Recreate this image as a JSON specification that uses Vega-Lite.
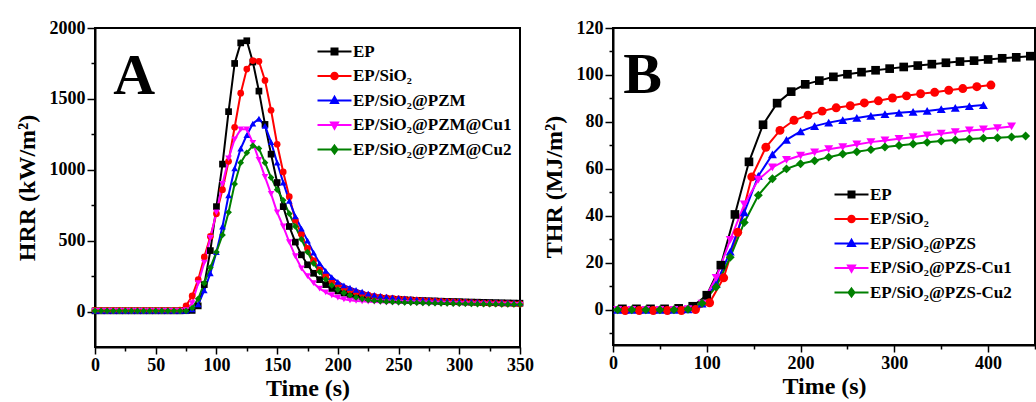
{
"$schema": "https://vega.github.io/schema/vega-lite/v6.json",
"background": "white",
"padding": {"left": 14, "top": 18, "right": 0, "bottom": 0},
"bounds": "flush",
"spacing": 93,
"datasets": {
"hrr": [
{"s":"EP","t":0,"v":5},{"s":"EP","t":5,"v":5},{"s":"EP","t":10,"v":5},{"s":"EP","t":15,"v":5},{"s":"EP","t":20,"v":5},{"s":"EP","t":25,"v":5},{"s":"EP","t":30,"v":5},{"s":"EP","t":35,"v":5},{"s":"EP","t":40,"v":5},{"s":"EP","t":45,"v":5},{"s":"EP","t":50,"v":5},{"s":"EP","t":55,"v":5},{"s":"EP","t":60,"v":5},{"s":"EP","t":65,"v":5},{"s":"EP","t":70,"v":5},{"s":"EP","t":75,"v":6},{"s":"EP","t":80,"v":8},{"s":"EP","t":85,"v":40},{"s":"EP","t":90,"v":190},{"s":"EP","t":95,"v":430},{"s":"EP","t":100,"v":740},{"s":"EP","t":105,"v":1040},{"s":"EP","t":110,"v":1410},{"s":"EP","t":115,"v":1750},{"s":"EP","t":120,"v":1895},{"s":"EP","t":125,"v":1910},{"s":"EP","t":130,"v":1760},{"s":"EP","t":135,"v":1555},{"s":"EP","t":140,"v":1320},{"s":"EP","t":145,"v":1110},{"s":"EP","t":150,"v":910},{"s":"EP","t":155,"v":740},{"s":"EP","t":160,"v":600},{"s":"EP","t":165,"v":490},{"s":"EP","t":170,"v":400},{"s":"EP","t":175,"v":330},{"s":"EP","t":180,"v":270},{"s":"EP","t":185,"v":225},{"s":"EP","t":190,"v":190},{"s":"EP","t":195,"v":163},{"s":"EP","t":200,"v":145},{"s":"EP","t":205,"v":130},{"s":"EP","t":210,"v":118},{"s":"EP","t":215,"v":110},{"s":"EP","t":220,"v":104},{"s":"EP","t":225,"v":99},{"s":"EP","t":230,"v":95},{"s":"EP","t":235,"v":92},{"s":"EP","t":240,"v":89},{"s":"EP","t":245,"v":87},{"s":"EP","t":250,"v":85},{"s":"EP","t":255,"v":83},{"s":"EP","t":260,"v":81},{"s":"EP","t":265,"v":79},{"s":"EP","t":270,"v":78},{"s":"EP","t":275,"v":76},{"s":"EP","t":280,"v":75},{"s":"EP","t":285,"v":73},{"s":"EP","t":290,"v":72},{"s":"EP","t":295,"v":71},{"s":"EP","t":300,"v":70},{"s":"EP","t":305,"v":68},{"s":"EP","t":310,"v":67},{"s":"EP","t":315,"v":66},{"s":"EP","t":320,"v":65},{"s":"EP","t":325,"v":64},{"s":"EP","t":330,"v":63},{"s":"EP","t":335,"v":62},{"s":"EP","t":340,"v":61},{"s":"EP","t":345,"v":60},{"s":"EP","t":350,"v":59},
{"s":"EP/SiO₂","t":0,"v":8},{"s":"EP/SiO₂","t":5,"v":8},{"s":"EP/SiO₂","t":10,"v":8},{"s":"EP/SiO₂","t":15,"v":8},{"s":"EP/SiO₂","t":20,"v":8},{"s":"EP/SiO₂","t":25,"v":8},{"s":"EP/SiO₂","t":30,"v":8},{"s":"EP/SiO₂","t":35,"v":8},{"s":"EP/SiO₂","t":40,"v":8},{"s":"EP/SiO₂","t":45,"v":8},{"s":"EP/SiO₂","t":50,"v":8},{"s":"EP/SiO₂","t":55,"v":8},{"s":"EP/SiO₂","t":60,"v":8},{"s":"EP/SiO₂","t":65,"v":8},{"s":"EP/SiO₂","t":70,"v":10},{"s":"EP/SiO₂","t":75,"v":40},{"s":"EP/SiO₂","t":80,"v":110},{"s":"EP/SiO₂","t":85,"v":225},{"s":"EP/SiO₂","t":90,"v":385},{"s":"EP/SiO₂","t":95,"v":530},{"s":"EP/SiO₂","t":100,"v":690},{"s":"EP/SiO₂","t":105,"v":860},{"s":"EP/SiO₂","t":110,"v":1060},{"s":"EP/SiO₂","t":115,"v":1300},{"s":"EP/SiO₂","t":120,"v":1540},{"s":"EP/SiO₂","t":125,"v":1710},{"s":"EP/SiO₂","t":130,"v":1770},{"s":"EP/SiO₂","t":135,"v":1765},{"s":"EP/SiO₂","t":140,"v":1630},{"s":"EP/SiO₂","t":145,"v":1420},{"s":"EP/SiO₂","t":150,"v":1180},{"s":"EP/SiO₂","t":155,"v":985},{"s":"EP/SiO₂","t":160,"v":810},{"s":"EP/SiO₂","t":165,"v":645},{"s":"EP/SiO₂","t":170,"v":545},{"s":"EP/SiO₂","t":175,"v":445},{"s":"EP/SiO₂","t":180,"v":360},{"s":"EP/SiO₂","t":185,"v":295},{"s":"EP/SiO₂","t":190,"v":252},{"s":"EP/SiO₂","t":195,"v":215},{"s":"EP/SiO₂","t":200,"v":190},{"s":"EP/SiO₂","t":205,"v":168},{"s":"EP/SiO₂","t":210,"v":150},{"s":"EP/SiO₂","t":215,"v":136},{"s":"EP/SiO₂","t":220,"v":125},{"s":"EP/SiO₂","t":225,"v":116},{"s":"EP/SiO₂","t":230,"v":108},{"s":"EP/SiO₂","t":235,"v":102},{"s":"EP/SiO₂","t":240,"v":97},{"s":"EP/SiO₂","t":245,"v":93},{"s":"EP/SiO₂","t":250,"v":89},{"s":"EP/SiO₂","t":255,"v":86},{"s":"EP/SiO₂","t":260,"v":83},{"s":"EP/SiO₂","t":265,"v":80},{"s":"EP/SiO₂","t":270,"v":78},{"s":"EP/SiO₂","t":275,"v":76},{"s":"EP/SiO₂","t":280,"v":74},{"s":"EP/SiO₂","t":285,"v":72},{"s":"EP/SiO₂","t":290,"v":70},{"s":"EP/SiO₂","t":295,"v":68},{"s":"EP/SiO₂","t":300,"v":66},{"s":"EP/SiO₂","t":305,"v":65},{"s":"EP/SiO₂","t":310,"v":63},{"s":"EP/SiO₂","t":315,"v":62},{"s":"EP/SiO₂","t":320,"v":60},{"s":"EP/SiO₂","t":325,"v":59},{"s":"EP/SiO₂","t":330,"v":58},{"s":"EP/SiO₂","t":335,"v":57},{"s":"EP/SiO₂","t":340,"v":56},{"s":"EP/SiO₂","t":345,"v":55},{"s":"EP/SiO₂","t":350,"v":54},
{"s":"EP/SiO₂@PZM","t":0,"v":5},{"s":"EP/SiO₂@PZM","t":5,"v":5},{"s":"EP/SiO₂@PZM","t":10,"v":5},{"s":"EP/SiO₂@PZM","t":15,"v":5},{"s":"EP/SiO₂@PZM","t":20,"v":5},{"s":"EP/SiO₂@PZM","t":25,"v":5},{"s":"EP/SiO₂@PZM","t":30,"v":5},{"s":"EP/SiO₂@PZM","t":35,"v":5},{"s":"EP/SiO₂@PZM","t":40,"v":5},{"s":"EP/SiO₂@PZM","t":45,"v":5},{"s":"EP/SiO₂@PZM","t":50,"v":5},{"s":"EP/SiO₂@PZM","t":55,"v":5},{"s":"EP/SiO₂@PZM","t":60,"v":5},{"s":"EP/SiO₂@PZM","t":65,"v":5},{"s":"EP/SiO₂@PZM","t":70,"v":5},{"s":"EP/SiO₂@PZM","t":75,"v":5},{"s":"EP/SiO₂@PZM","t":80,"v":15},{"s":"EP/SiO₂@PZM","t":85,"v":50},{"s":"EP/SiO₂@PZM","t":90,"v":150},{"s":"EP/SiO₂@PZM","t":95,"v":270},{"s":"EP/SiO₂@PZM","t":100,"v":420},{"s":"EP/SiO₂@PZM","t":105,"v":600},{"s":"EP/SiO₂@PZM","t":110,"v":820},{"s":"EP/SiO₂@PZM","t":115,"v":1010},{"s":"EP/SiO₂@PZM","t":120,"v":1150},{"s":"EP/SiO₂@PZM","t":125,"v":1245},{"s":"EP/SiO₂@PZM","t":130,"v":1325},{"s":"EP/SiO₂@PZM","t":135,"v":1360},{"s":"EP/SiO₂@PZM","t":140,"v":1310},{"s":"EP/SiO₂@PZM","t":145,"v":1195},{"s":"EP/SiO₂@PZM","t":150,"v":1050},{"s":"EP/SiO₂@PZM","t":155,"v":910},{"s":"EP/SiO₂@PZM","t":160,"v":780},{"s":"EP/SiO₂@PZM","t":165,"v":672},{"s":"EP/SiO₂@PZM","t":170,"v":585},{"s":"EP/SiO₂@PZM","t":175,"v":500},{"s":"EP/SiO₂@PZM","t":180,"v":415},{"s":"EP/SiO₂@PZM","t":185,"v":340},{"s":"EP/SiO₂@PZM","t":190,"v":287},{"s":"EP/SiO₂@PZM","t":195,"v":243},{"s":"EP/SiO₂@PZM","t":200,"v":210},{"s":"EP/SiO₂@PZM","t":205,"v":185},{"s":"EP/SiO₂@PZM","t":210,"v":168},{"s":"EP/SiO₂@PZM","t":215,"v":153},{"s":"EP/SiO₂@PZM","t":220,"v":140},{"s":"EP/SiO₂@PZM","t":225,"v":126},{"s":"EP/SiO₂@PZM","t":230,"v":117},{"s":"EP/SiO₂@PZM","t":235,"v":111},{"s":"EP/SiO₂@PZM","t":240,"v":105},{"s":"EP/SiO₂@PZM","t":245,"v":100},{"s":"EP/SiO₂@PZM","t":250,"v":96},{"s":"EP/SiO₂@PZM","t":255,"v":92},{"s":"EP/SiO₂@PZM","t":260,"v":89},{"s":"EP/SiO₂@PZM","t":265,"v":86},{"s":"EP/SiO₂@PZM","t":270,"v":84},{"s":"EP/SiO₂@PZM","t":275,"v":82},{"s":"EP/SiO₂@PZM","t":280,"v":80},{"s":"EP/SiO₂@PZM","t":285,"v":78},{"s":"EP/SiO₂@PZM","t":290,"v":76},{"s":"EP/SiO₂@PZM","t":295,"v":74},{"s":"EP/SiO₂@PZM","t":300,"v":73},{"s":"EP/SiO₂@PZM","t":305,"v":71},{"s":"EP/SiO₂@PZM","t":310,"v":70},{"s":"EP/SiO₂@PZM","t":315,"v":68},{"s":"EP/SiO₂@PZM","t":320,"v":67},{"s":"EP/SiO₂@PZM","t":325,"v":66},{"s":"EP/SiO₂@PZM","t":330,"v":65},{"s":"EP/SiO₂@PZM","t":335,"v":64},{"s":"EP/SiO₂@PZM","t":340,"v":63},{"s":"EP/SiO₂@PZM","t":345,"v":62},{"s":"EP/SiO₂@PZM","t":350,"v":61},
{"s":"EP/SiO₂@PZM@Cu1","t":0,"v":5},{"s":"EP/SiO₂@PZM@Cu1","t":5,"v":5},{"s":"EP/SiO₂@PZM@Cu1","t":10,"v":5},{"s":"EP/SiO₂@PZM@Cu1","t":15,"v":5},{"s":"EP/SiO₂@PZM@Cu1","t":20,"v":5},{"s":"EP/SiO₂@PZM@Cu1","t":25,"v":5},{"s":"EP/SiO₂@PZM@Cu1","t":30,"v":5},{"s":"EP/SiO₂@PZM@Cu1","t":35,"v":5},{"s":"EP/SiO₂@PZM@Cu1","t":40,"v":5},{"s":"EP/SiO₂@PZM@Cu1","t":45,"v":5},{"s":"EP/SiO₂@PZM@Cu1","t":50,"v":5},{"s":"EP/SiO₂@PZM@Cu1","t":55,"v":5},{"s":"EP/SiO₂@PZM@Cu1","t":60,"v":5},{"s":"EP/SiO₂@PZM@Cu1","t":65,"v":5},{"s":"EP/SiO₂@PZM@Cu1","t":70,"v":5},{"s":"EP/SiO₂@PZM@Cu1","t":75,"v":10},{"s":"EP/SiO₂@PZM@Cu1","t":80,"v":60},{"s":"EP/SiO₂@PZM@Cu1","t":85,"v":200},{"s":"EP/SiO₂@PZM@Cu1","t":90,"v":345},{"s":"EP/SiO₂@PZM@Cu1","t":95,"v":520},{"s":"EP/SiO₂@PZM@Cu1","t":100,"v":700},{"s":"EP/SiO₂@PZM@Cu1","t":105,"v":900},{"s":"EP/SiO₂@PZM@Cu1","t":110,"v":1080},{"s":"EP/SiO₂@PZM@Cu1","t":115,"v":1215},{"s":"EP/SiO₂@PZM@Cu1","t":120,"v":1285},{"s":"EP/SiO₂@PZM@Cu1","t":125,"v":1285},{"s":"EP/SiO₂@PZM@Cu1","t":130,"v":1190},{"s":"EP/SiO₂@PZM@Cu1","t":135,"v":1070},{"s":"EP/SiO₂@PZM@Cu1","t":140,"v":950},{"s":"EP/SiO₂@PZM@Cu1","t":145,"v":830},{"s":"EP/SiO₂@PZM@Cu1","t":150,"v":700},{"s":"EP/SiO₂@PZM@Cu1","t":155,"v":600},{"s":"EP/SiO₂@PZM@Cu1","t":160,"v":490},{"s":"EP/SiO₂@PZM@Cu1","t":165,"v":390},{"s":"EP/SiO₂@PZM@Cu1","t":170,"v":305},{"s":"EP/SiO₂@PZM@Cu1","t":175,"v":250},{"s":"EP/SiO₂@PZM@Cu1","t":180,"v":200},{"s":"EP/SiO₂@PZM@Cu1","t":185,"v":162},{"s":"EP/SiO₂@PZM@Cu1","t":190,"v":135},{"s":"EP/SiO₂@PZM@Cu1","t":195,"v":115},{"s":"EP/SiO₂@PZM@Cu1","t":200,"v":98},{"s":"EP/SiO₂@PZM@Cu1","t":205,"v":86},{"s":"EP/SiO₂@PZM@Cu1","t":210,"v":79},{"s":"EP/SiO₂@PZM@Cu1","t":215,"v":75},{"s":"EP/SiO₂@PZM@Cu1","t":220,"v":72},{"s":"EP/SiO₂@PZM@Cu1","t":225,"v":70},{"s":"EP/SiO₂@PZM@Cu1","t":230,"v":68},{"s":"EP/SiO₂@PZM@Cu1","t":235,"v":66},{"s":"EP/SiO₂@PZM@Cu1","t":240,"v":64},{"s":"EP/SiO₂@PZM@Cu1","t":245,"v":63},{"s":"EP/SiO₂@PZM@Cu1","t":250,"v":62},{"s":"EP/SiO₂@PZM@Cu1","t":255,"v":61},{"s":"EP/SiO₂@PZM@Cu1","t":260,"v":60},{"s":"EP/SiO₂@PZM@Cu1","t":265,"v":59},{"s":"EP/SiO₂@PZM@Cu1","t":270,"v":58},{"s":"EP/SiO₂@PZM@Cu1","t":275,"v":57},{"s":"EP/SiO₂@PZM@Cu1","t":280,"v":56},{"s":"EP/SiO₂@PZM@Cu1","t":285,"v":55},{"s":"EP/SiO₂@PZM@Cu1","t":290,"v":54},{"s":"EP/SiO₂@PZM@Cu1","t":295,"v":53},{"s":"EP/SiO₂@PZM@Cu1","t":300,"v":52},{"s":"EP/SiO₂@PZM@Cu1","t":305,"v":52},{"s":"EP/SiO₂@PZM@Cu1","t":310,"v":51},{"s":"EP/SiO₂@PZM@Cu1","t":315,"v":50},{"s":"EP/SiO₂@PZM@Cu1","t":320,"v":50},{"s":"EP/SiO₂@PZM@Cu1","t":325,"v":49},{"s":"EP/SiO₂@PZM@Cu1","t":330,"v":49},{"s":"EP/SiO₂@PZM@Cu1","t":335,"v":48},{"s":"EP/SiO₂@PZM@Cu1","t":340,"v":48},{"s":"EP/SiO₂@PZM@Cu1","t":345,"v":47},{"s":"EP/SiO₂@PZM@Cu1","t":350,"v":47},
{"s":"EP/SiO₂@PZM@Cu2","t":0,"v":5},{"s":"EP/SiO₂@PZM@Cu2","t":5,"v":5},{"s":"EP/SiO₂@PZM@Cu2","t":10,"v":5},{"s":"EP/SiO₂@PZM@Cu2","t":15,"v":5},{"s":"EP/SiO₂@PZM@Cu2","t":20,"v":5},{"s":"EP/SiO₂@PZM@Cu2","t":25,"v":5},{"s":"EP/SiO₂@PZM@Cu2","t":30,"v":5},{"s":"EP/SiO₂@PZM@Cu2","t":35,"v":5},{"s":"EP/SiO₂@PZM@Cu2","t":40,"v":5},{"s":"EP/SiO₂@PZM@Cu2","t":45,"v":5},{"s":"EP/SiO₂@PZM@Cu2","t":50,"v":5},{"s":"EP/SiO₂@PZM@Cu2","t":55,"v":5},{"s":"EP/SiO₂@PZM@Cu2","t":60,"v":5},{"s":"EP/SiO₂@PZM@Cu2","t":65,"v":5},{"s":"EP/SiO₂@PZM@Cu2","t":70,"v":5},{"s":"EP/SiO₂@PZM@Cu2","t":75,"v":5},{"s":"EP/SiO₂@PZM@Cu2","t":80,"v":25},{"s":"EP/SiO₂@PZM@Cu2","t":85,"v":90},{"s":"EP/SiO₂@PZM@Cu2","t":90,"v":200},{"s":"EP/SiO₂@PZM@Cu2","t":95,"v":310},{"s":"EP/SiO₂@PZM@Cu2","t":100,"v":420},{"s":"EP/SiO₂@PZM@Cu2","t":105,"v":540},{"s":"EP/SiO₂@PZM@Cu2","t":110,"v":700},{"s":"EP/SiO₂@PZM@Cu2","t":115,"v":900},{"s":"EP/SiO₂@PZM@Cu2","t":120,"v":1050},{"s":"EP/SiO₂@PZM@Cu2","t":125,"v":1120},{"s":"EP/SiO₂@PZM@Cu2","t":130,"v":1170},{"s":"EP/SiO₂@PZM@Cu2","t":135,"v":1150},{"s":"EP/SiO₂@PZM@Cu2","t":140,"v":1050},{"s":"EP/SiO₂@PZM@Cu2","t":145,"v":945},{"s":"EP/SiO₂@PZM@Cu2","t":150,"v":860},{"s":"EP/SiO₂@PZM@Cu2","t":155,"v":785},{"s":"EP/SiO₂@PZM@Cu2","t":160,"v":690},{"s":"EP/SiO₂@PZM@Cu2","t":165,"v":600},{"s":"EP/SiO₂@PZM@Cu2","t":170,"v":510},{"s":"EP/SiO₂@PZM@Cu2","t":175,"v":420},{"s":"EP/SiO₂@PZM@Cu2","t":180,"v":340},{"s":"EP/SiO₂@PZM@Cu2","t":185,"v":280},{"s":"EP/SiO₂@PZM@Cu2","t":190,"v":228},{"s":"EP/SiO₂@PZM@Cu2","t":195,"v":185},{"s":"EP/SiO₂@PZM@Cu2","t":200,"v":155},{"s":"EP/SiO₂@PZM@Cu2","t":205,"v":132},{"s":"EP/SiO₂@PZM@Cu2","t":210,"v":115},{"s":"EP/SiO₂@PZM@Cu2","t":215,"v":100},{"s":"EP/SiO₂@PZM@Cu2","t":220,"v":90},{"s":"EP/SiO₂@PZM@Cu2","t":225,"v":82},{"s":"EP/SiO₂@PZM@Cu2","t":230,"v":77},{"s":"EP/SiO₂@PZM@Cu2","t":235,"v":73},{"s":"EP/SiO₂@PZM@Cu2","t":240,"v":70},{"s":"EP/SiO₂@PZM@Cu2","t":245,"v":68},{"s":"EP/SiO₂@PZM@Cu2","t":250,"v":66},{"s":"EP/SiO₂@PZM@Cu2","t":255,"v":64},{"s":"EP/SiO₂@PZM@Cu2","t":260,"v":63},{"s":"EP/SiO₂@PZM@Cu2","t":265,"v":62},{"s":"EP/SiO₂@PZM@Cu2","t":270,"v":61},{"s":"EP/SiO₂@PZM@Cu2","t":275,"v":60},{"s":"EP/SiO₂@PZM@Cu2","t":280,"v":59},{"s":"EP/SiO₂@PZM@Cu2","t":285,"v":58},{"s":"EP/SiO₂@PZM@Cu2","t":290,"v":57},{"s":"EP/SiO₂@PZM@Cu2","t":295,"v":56},{"s":"EP/SiO₂@PZM@Cu2","t":300,"v":55},{"s":"EP/SiO₂@PZM@Cu2","t":305,"v":55},{"s":"EP/SiO₂@PZM@Cu2","t":310,"v":54},{"s":"EP/SiO₂@PZM@Cu2","t":315,"v":53},{"s":"EP/SiO₂@PZM@Cu2","t":320,"v":53},{"s":"EP/SiO₂@PZM@Cu2","t":325,"v":52},{"s":"EP/SiO₂@PZM@Cu2","t":330,"v":52},{"s":"EP/SiO₂@PZM@Cu2","t":335,"v":51},{"s":"EP/SiO₂@PZM@Cu2","t":340,"v":51},{"s":"EP/SiO₂@PZM@Cu2","t":345,"v":50},{"s":"EP/SiO₂@PZM@Cu2","t":350,"v":50}
],
"thr": [
{"s":"EP","t":10,"v":0.4},{"s":"EP","t":25,"v":0.4},{"s":"EP","t":40,"v":0.4},{"s":"EP","t":55,"v":0.4},{"s":"EP","t":70,"v":0.6},{"s":"EP","t":85,"v":1.5},{"s":"EP","t":100,"v":6.2},{"s":"EP","t":115,"v":19},{"s":"EP","t":130,"v":40.6},{"s":"EP","t":145,"v":63},{"s":"EP","t":160,"v":78.8},{"s":"EP","t":175,"v":88},{"s":"EP","t":190,"v":92.9},{"s":"EP","t":205,"v":96},{"s":"EP","t":220,"v":97.6},{"s":"EP","t":235,"v":99.2},{"s":"EP","t":250,"v":100.3},{"s":"EP","t":265,"v":101.2},{"s":"EP","t":280,"v":102},{"s":"EP","t":295,"v":102.7},{"s":"EP","t":310,"v":103.4},{"s":"EP","t":325,"v":104},{"s":"EP","t":340,"v":104.6},{"s":"EP","t":355,"v":105.2},{"s":"EP","t":370,"v":105.7},{"s":"EP","t":385,"v":106.1},{"s":"EP","t":400,"v":106.6},{"s":"EP","t":415,"v":107.1},{"s":"EP","t":430,"v":107.5},{"s":"EP","t":445,"v":108},
{"s":"EP/SiO₂","t":13,"v":-0.3},{"s":"EP/SiO₂","t":28,"v":-0.3},{"s":"EP/SiO₂","t":43,"v":-0.3},{"s":"EP/SiO₂","t":58,"v":-0.3},{"s":"EP/SiO₂","t":73,"v":-0.3},{"s":"EP/SiO₂","t":88,"v":0.1},{"s":"EP/SiO₂","t":103,"v":3},{"s":"EP/SiO₂","t":118,"v":13.6},{"s":"EP/SiO₂","t":133,"v":33},{"s":"EP/SiO₂","t":148,"v":56.6},{"s":"EP/SiO₂","t":163,"v":69.2},{"s":"EP/SiO₂","t":178,"v":76.4},{"s":"EP/SiO₂","t":193,"v":80.7},{"s":"EP/SiO₂","t":208,"v":82.9},{"s":"EP/SiO₂","t":223,"v":84.6},{"s":"EP/SiO₂","t":238,"v":86},{"s":"EP/SiO₂","t":253,"v":86.9},{"s":"EP/SiO₂","t":268,"v":88.1},{"s":"EP/SiO₂","t":283,"v":89},{"s":"EP/SiO₂","t":298,"v":90.2},{"s":"EP/SiO₂","t":313,"v":91.1},{"s":"EP/SiO₂","t":328,"v":92},{"s":"EP/SiO₂","t":343,"v":92.6},{"s":"EP/SiO₂","t":358,"v":93.5},{"s":"EP/SiO₂","t":373,"v":94.2},{"s":"EP/SiO₂","t":388,"v":95},{"s":"EP/SiO₂","t":403,"v":95.7},
{"s":"EP/SiO₂@PZS","t":5,"v":0},{"s":"EP/SiO₂@PZS","t":20,"v":0},{"s":"EP/SiO₂@PZS","t":35,"v":0},{"s":"EP/SiO₂@PZS","t":50,"v":0},{"s":"EP/SiO₂@PZS","t":65,"v":0},{"s":"EP/SiO₂@PZS","t":80,"v":0.2},{"s":"EP/SiO₂@PZS","t":95,"v":2.6},{"s":"EP/SiO₂@PZS","t":110,"v":11},{"s":"EP/SiO₂@PZS","t":125,"v":24.8},{"s":"EP/SiO₂@PZS","t":140,"v":41.5},{"s":"EP/SiO₂@PZS","t":155,"v":57},{"s":"EP/SiO₂@PZS","t":170,"v":66.2},{"s":"EP/SiO₂@PZS","t":185,"v":72.4},{"s":"EP/SiO₂@PZS","t":200,"v":76},{"s":"EP/SiO₂@PZS","t":215,"v":78.2},{"s":"EP/SiO₂@PZS","t":230,"v":79.7},{"s":"EP/SiO₂@PZS","t":245,"v":80.8},{"s":"EP/SiO₂@PZS","t":260,"v":81.7},{"s":"EP/SiO₂@PZS","t":275,"v":82.6},{"s":"EP/SiO₂@PZS","t":290,"v":83.3},{"s":"EP/SiO₂@PZS","t":305,"v":83.9},{"s":"EP/SiO₂@PZS","t":320,"v":84.3},{"s":"EP/SiO₂@PZS","t":335,"v":84.7},{"s":"EP/SiO₂@PZS","t":350,"v":85.4},{"s":"EP/SiO₂@PZS","t":365,"v":86},{"s":"EP/SiO₂@PZS","t":380,"v":86.7},{"s":"EP/SiO₂@PZS","t":395,"v":87.2},
{"s":"EP/SiO₂@PZS-Cu1","t":5,"v":0},{"s":"EP/SiO₂@PZS-Cu1","t":20,"v":0},{"s":"EP/SiO₂@PZS-Cu1","t":35,"v":0},{"s":"EP/SiO₂@PZS-Cu1","t":50,"v":0},{"s":"EP/SiO₂@PZS-Cu1","t":65,"v":0},{"s":"EP/SiO₂@PZS-Cu1","t":80,"v":0.3},{"s":"EP/SiO₂@PZS-Cu1","t":95,"v":2.6},{"s":"EP/SiO₂@PZS-Cu1","t":110,"v":13.6},{"s":"EP/SiO₂@PZS-Cu1","t":125,"v":29.8},{"s":"EP/SiO₂@PZS-Cu1","t":140,"v":44.9},{"s":"EP/SiO₂@PZS-Cu1","t":155,"v":55.4},{"s":"EP/SiO₂@PZS-Cu1","t":170,"v":60.6},{"s":"EP/SiO₂@PZS-Cu1","t":185,"v":63.8},{"s":"EP/SiO₂@PZS-Cu1","t":200,"v":65.7},{"s":"EP/SiO₂@PZS-Cu1","t":215,"v":67},{"s":"EP/SiO₂@PZS-Cu1","t":230,"v":68.4},{"s":"EP/SiO₂@PZS-Cu1","t":245,"v":69.3},{"s":"EP/SiO₂@PZS-Cu1","t":260,"v":70.4},{"s":"EP/SiO₂@PZS-Cu1","t":275,"v":71.4},{"s":"EP/SiO₂@PZS-Cu1","t":290,"v":72.1},{"s":"EP/SiO₂@PZS-Cu1","t":305,"v":72.8},{"s":"EP/SiO₂@PZS-Cu1","t":320,"v":73.5},{"s":"EP/SiO₂@PZS-Cu1","t":335,"v":74.3},{"s":"EP/SiO₂@PZS-Cu1","t":350,"v":75},{"s":"EP/SiO₂@PZS-Cu1","t":365,"v":75.7},{"s":"EP/SiO₂@PZS-Cu1","t":380,"v":76.4},{"s":"EP/SiO₂@PZS-Cu1","t":395,"v":76.8},{"s":"EP/SiO₂@PZS-Cu1","t":410,"v":77.4},{"s":"EP/SiO₂@PZS-Cu1","t":425,"v":78.1},
{"s":"EP/SiO₂@PZS-Cu2","t":5,"v":0},{"s":"EP/SiO₂@PZS-Cu2","t":20,"v":0},{"s":"EP/SiO₂@PZS-Cu2","t":35,"v":0},{"s":"EP/SiO₂@PZS-Cu2","t":50,"v":0},{"s":"EP/SiO₂@PZS-Cu2","t":65,"v":0},{"s":"EP/SiO₂@PZS-Cu2","t":80,"v":0.2},{"s":"EP/SiO₂@PZS-Cu2","t":95,"v":2.8},{"s":"EP/SiO₂@PZS-Cu2","t":110,"v":9.7},{"s":"EP/SiO₂@PZS-Cu2","t":125,"v":22.4},{"s":"EP/SiO₂@PZS-Cu2","t":140,"v":37.2},{"s":"EP/SiO₂@PZS-Cu2","t":155,"v":48.8},{"s":"EP/SiO₂@PZS-Cu2","t":170,"v":55.8},{"s":"EP/SiO₂@PZS-Cu2","t":185,"v":60},{"s":"EP/SiO₂@PZS-Cu2","t":200,"v":62.2},{"s":"EP/SiO₂@PZS-Cu2","t":215,"v":63.5},{"s":"EP/SiO₂@PZS-Cu2","t":230,"v":65},{"s":"EP/SiO₂@PZS-Cu2","t":245,"v":66.3},{"s":"EP/SiO₂@PZS-Cu2","t":260,"v":67.3},{"s":"EP/SiO₂@PZS-Cu2","t":275,"v":68.2},{"s":"EP/SiO₂@PZS-Cu2","t":290,"v":69.3},{"s":"EP/SiO₂@PZS-Cu2","t":305,"v":70},{"s":"EP/SiO₂@PZS-Cu2","t":320,"v":70.6},{"s":"EP/SiO₂@PZS-Cu2","t":335,"v":71.3},{"s":"EP/SiO₂@PZS-Cu2","t":350,"v":71.9},{"s":"EP/SiO₂@PZS-Cu2","t":365,"v":72.3},{"s":"EP/SiO₂@PZS-Cu2","t":380,"v":72.7},{"s":"EP/SiO₂@PZS-Cu2","t":395,"v":73.1},{"s":"EP/SiO₂@PZS-Cu2","t":410,"v":73.3},{"s":"EP/SiO₂@PZS-Cu2","t":425,"v":73.6},{"s":"EP/SiO₂@PZS-Cu2","t":440,"v":74}
],
"labA": [{"t":15,"v":1534,"txt":"A"}],
"labB": [{"t":11,"v":92.2,"txt":"B"}]
},
"hconcat": [
{
"width": 425, "height": 319,
"encoding": {
"x": {"field":"t","type":"quantitative","scale":{"domain":[0,350],"nice":false,"zero":false},
"axis":{"title":"Time (s)","format":"d","values":[0,25,50,75,100,125,150,175,200,225,250,275,300,325,350],"labelExpr":"datum.value % 50 === 0 ? datum.label : ''","tickSize":{"condition":{"test":"datum.value % 50 === 0","value":7},"value":4}}},
"y": {"field":"v","type":"quantitative","scale":{"domain":[-250,2000],"nice":false,"zero":false},
"axis":{"title":"HRR (kW/m²)","format":"d","values":[0,250,500,750,1000,1250,1500,1750,2000],"labelExpr":"datum.value % 500 === 0 ? datum.label : ''","tickSize":{"condition":{"test":"datum.value % 500 === 0","value":8},"value":4}}}
},
"layer": [
{"data":{"name":"hrr"},"mark":{"type":"line","strokeWidth":2},
"encoding":{"color":{"field":"s","type":"nominal","scale":{"domain":["EP","EP/SiO₂","EP/SiO₂@PZM","EP/SiO₂@PZM@Cu1","EP/SiO₂@PZM@Cu2"],"range":["#000000","#ff0000","#0000ff","#ff00ff","#008000"]},
"legend":{"title":null,"orient":"none","legendX":219,"legendY":15,
"encode":{"symbols":{"update":{
"shape":{"signal":"['M-3.4,0H3.4M-0.6,-0.6H0.6V0.6H-0.6Z','M-3.4,0H3.4M-0.65,0A0.65,0.65,0,1,0,0.65,0A0.65,0.65,0,1,0,-0.65,0Z','M-3.4,0H3.4M0,-0.75L0.7,0.5H-0.7Z','M-3.4,0H3.4M0,0.75L0.7,-0.5H-0.7Z','M-3.4,0H3.4M0,-0.8L0.6,0L0,0.8L-0.6,0Z'][datum.index]"},
"fill":{"signal":"['#000000','#ff0000','#0000ff','#ff00ff','#008000'][datum.index]"},
"stroke":{"signal":"['#000000','#ff0000','#0000ff','#ff00ff','#008000'][datum.index]"},
"strokeWidth":{"value":2},"opacity":{"value":1}}}}}}}},
{"data":{"name":"hrr"},"transform":[{"filter":{"field":"s","equal":"EP"}}],"mark":{"type":"point","shape":"square","filled":true,"size":45,"opacity":1,"color":"#000000"}},
{"data":{"name":"hrr"},"transform":[{"filter":{"field":"s","equal":"EP/SiO₂"}}],"mark":{"type":"point","shape":"circle","filled":true,"size":45,"opacity":1,"color":"#ff0000"}},
{"data":{"name":"hrr"},"transform":[{"filter":{"field":"s","equal":"EP/SiO₂@PZM"}}],"mark":{"type":"point","shape":"triangle-up","filled":true,"size":45,"opacity":1,"color":"#0000ff"}},
{"data":{"name":"hrr"},"transform":[{"filter":{"field":"s","equal":"EP/SiO₂@PZM@Cu1"}}],"mark":{"type":"point","shape":"triangle-down","filled":true,"size":45,"opacity":1,"color":"#ff00ff"}},
{"data":{"name":"hrr"},"transform":[{"filter":{"field":"s","equal":"EP/SiO₂@PZM@Cu2"}}],"mark":{"type":"point","shape":"diamond","filled":true,"size":45,"opacity":1,"color":"#008000"}},
{"data":{"name":"labA"},"mark":{"type":"text","font":"Liberation Serif","fontWeight":"bold","fontSize":58,"align":"left","baseline":"alphabetic","color":"black"},
"encoding":{"text":{"field":"txt"}}}
]
},
{
"width": 422, "height": 317,
"encoding": {
"x": {"field":"t","type":"quantitative","scale":{"domain":[0,450],"nice":false,"zero":false},
"axis":{"title":"Time (s)","format":"d","values":[0,50,100,150,200,250,300,350,400,450],"labelExpr":"datum.value % 100 === 0 ? datum.label : ''","tickSize":{"condition":{"test":"datum.value % 100 === 0","value":7},"value":4}}},
"y": {"field":"v","type":"quantitative","scale":{"domain":[-15,120],"nice":false,"zero":false},
"axis":{"title":"THR (MJ/m²)","format":"d","values":[-10,0,10,20,30,40,50,60,70,80,90,100,110,120],"labelExpr":"datum.value % 20 === 0 ? datum.label : ''","tickSize":{"condition":{"test":"datum.value % 20 === 0","value":8},"value":4}}}
},
"layer": [
{"data":{"name":"thr"},"mark":{"type":"line","strokeWidth":2},
"encoding":{"color":{"field":"s","type":"nominal","scale":{"domain":["EP","EP/SiO₂","EP/SiO₂@PZS","EP/SiO₂@PZS-Cu1","EP/SiO₂@PZS-Cu2"],"range":["#000000","#ff0000","#0000ff","#ff00ff","#008000"]},
"legend":{"title":null,"orient":"none","legendX":218,"legendY":158,
"encode":{"symbols":{"update":{
"shape":{"signal":"['M-3.4,0H3.4M-0.6,-0.6H0.6V0.6H-0.6Z','M-3.4,0H3.4M-0.65,0A0.65,0.65,0,1,0,0.65,0A0.65,0.65,0,1,0,-0.65,0Z','M-3.4,0H3.4M0,-0.75L0.7,0.5H-0.7Z','M-3.4,0H3.4M0,0.75L0.7,-0.5H-0.7Z','M-3.4,0H3.4M0,-0.8L0.6,0L0,0.8L-0.6,0Z'][datum.index]"},
"fill":{"signal":"['#000000','#ff0000','#0000ff','#ff00ff','#008000'][datum.index]"},
"stroke":{"signal":"['#000000','#ff0000','#0000ff','#ff00ff','#008000'][datum.index]"},
"strokeWidth":{"value":2},"opacity":{"value":1}}}}}}}},
{"data":{"name":"thr"},"transform":[{"filter":{"field":"s","equal":"EP"}}],"mark":{"type":"point","shape":"square","filled":true,"size":75,"opacity":1,"color":"#000000"}},
{"data":{"name":"thr"},"transform":[{"filter":{"field":"s","equal":"EP/SiO₂"}}],"mark":{"type":"point","shape":"circle","filled":true,"size":80,"opacity":1,"color":"#ff0000"}},
{"data":{"name":"thr"},"transform":[{"filter":{"field":"s","equal":"EP/SiO₂@PZS"}}],"mark":{"type":"point","shape":"triangle-up","filled":true,"size":80,"opacity":1,"color":"#0000ff"}},
{"data":{"name":"thr"},"transform":[{"filter":{"field":"s","equal":"EP/SiO₂@PZS-Cu1"}}],"mark":{"type":"point","shape":"triangle-down","filled":true,"size":80,"opacity":1,"color":"#ff00ff"}},
{"data":{"name":"thr"},"transform":[{"filter":{"field":"s","equal":"EP/SiO₂@PZS-Cu2"}}],"mark":{"type":"point","shape":"diamond","filled":true,"size":80,"opacity":1,"color":"#008000"}},
{"data":{"name":"labB"},"mark":{"type":"text","font":"Liberation Serif","fontWeight":"bold","fontSize":58,"align":"left","baseline":"alphabetic","color":"black"},
"encoding":{"text":{"field":"txt"}}}
]
}
],
"resolve": {"scale": {"color": "independent"}, "legend": {"color": "independent"}},
"config": {
"view": {"stroke": "black", "strokeWidth": 2},
"axis": {"domainColor": "black", "domainWidth": 2, "tickColor": "black", "tickWidth": 1.5, "labelFont": "Liberation Serif", "labelFontWeight": "bold", "labelFontSize": 18, "labelColor": "black", "labelPadding": 2, "titleFont": "Liberation Serif", "titleFontWeight": "bold", "titleFontSize": 24, "titleColor": "black", "grid": false, "labelFlush": false, "labelOverlap": false},
"axisX": {"titlePadding": 2},
"axisY": {"titlePadding": 10},
"legend": {"labelFont": "Liberation Serif", "labelFontWeight": "bold", "labelFontSize": 17, "labelColor": "black", "symbolSize": 100, "symbolOffset": 12, "labelOffset": 10, "rowPadding": 6.5, "padding": 0}
}
}
